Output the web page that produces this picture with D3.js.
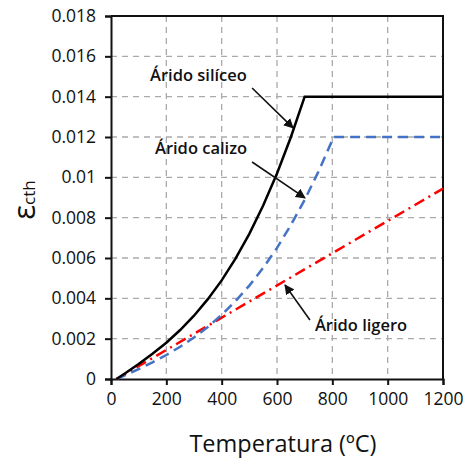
<!DOCTYPE html>
<html>
<head>
<meta charset="utf-8">
<script src="https://cdn.jsdelivr.net/npm/d3@7"></script>
<style>
  body { margin: 0; background: #fff; }
  svg text { font-family: "Open Sans", "Noto Sans", sans-serif; fill: #111; }
</style>
</head>
<body>
<div id="chart"></div>
<script>
// temperatures (ºC) and thermal strain
var tempSiliceo = [20, 50, 100, 150, 200, 250, 300, 350, 400, 450, 500, 550, 600, 650, 700, 1200];
var epsSiliceo = [0, 0.00027, 0.00074, 0.00125, 0.0018, 0.00243, 0.00314, 0.00396, 0.00489, 0.00597, 0.0072, 0.0086, 0.01019, 0.01199, 0.014, 0.014];

var tempCalizo = [20, 50, 100, 150, 200, 250, 300, 350, 400, 450, 500, 550, 600, 650, 700, 750, 805, 1200];
var epsCalizo = [0, 0.00018, 0.00049, 0.00083, 0.00119, 0.0016, 0.00206, 0.00258, 0.00318, 0.00386, 0.00463, 0.00551, 0.0065, 0.00763, 0.00888, 0.01029, 0.012, 0.012];

var tempLigero = [20, 1200];
var epsLigero = [0, 0.00944];

var xTicks = [0, 200, 400, 600, 800, 1000, 1200];
var yTicks = [0, 0.002, 0.004, 0.006, 0.008, 0.01, 0.012, 0.014, 0.016, 0.018];

// labels: text position and arrow (tail -> head), in data units
var notes = [
    { text: "Árido silíceo", tx: 141, ty: 0.0148, x1: 510, y1: 0.01443, x2: 658, y2: 0.01245 },
    { text: "Árido calizo", tx: 159, ty: 0.01116, x1: 510, y1: 0.01076, x2: 701, y2: 0.00898 },
    { text: "Árido ligero", tx: 737, ty: 0.00238, x1: 719, y1: 0.00293, x2: 629, y2: 0.00466 }
];

var width = 464, height = 461;
var margin = { top: 16, right: 21, bottom: 82, left: 111 };
var w = width - margin.left - margin.right;
var h = height - margin.top - margin.bottom;

var svg = d3.select('#chart').append('svg')
    .attr('width', width).attr('height', height);

var defs = svg.append('defs');
defs.append('marker').attr('id', 'arrow')
    .attr('viewBox', '0 0 10 10').attr('refX', 9).attr('refY', 5)
    .attr('markerWidth', 10).attr('markerHeight', 10)
    .attr('markerUnits', 'userSpaceOnUse')
    .attr('orient', 'auto')
    .append('path').attr('d', 'M0,0 L10,5 L0,10 z').attr('fill', '#111');

var g = svg.append('g').attr('transform', 'translate(' + margin.left + ',' + margin.top + ')');

var x = d3.scaleLinear().domain([0, 1200]).range([0, w]);
var y = d3.scaleLinear().domain([0, 0.018]).range([h, 0]);

//grid
g.append('g').selectAll('line').data(yTicks.slice(1, -1)).enter().append('line')
    .attr('x1', 0).attr('x2', w)
    .attr('y1', function (d) { return y(d); }).attr('y2', function (d) { return y(d); })
    .attr('stroke', '#aaaaaa').attr('stroke-width', 1.3).attr('stroke-dasharray', '6,5');
g.append('g').selectAll('line').data(xTicks.slice(1, -1)).enter().append('line')
    .attr('y1', 0).attr('y2', h)
    .attr('x1', function (d) { return x(d); }).attr('x2', function (d) { return x(d); })
    .attr('stroke', '#aaaaaa').attr('stroke-width', 1.3).attr('stroke-dasharray', '6,5');

//axes
var xAxis = g.append('g').attr('transform', 'translate(0,' + h + ')')
    .call(d3.axisBottom(x).tickValues(xTicks).tickSize(6).tickPadding(8).tickFormat(d3.format('d')));
var yAxis = g.append('g')
    .call(d3.axisLeft(y).tickValues(yTicks).tickSize(6).tickPadding(9).tickFormat(d3.format('~g')));
[xAxis, yAxis].forEach(function (a) {
    a.select('.domain').attr('stroke', '#111').attr('stroke-width', 2);
    a.selectAll('.tick line').attr('stroke', '#111').attr('stroke-width', 2);
    a.selectAll('text').style('font-size', '17.5px').attr('fill', '#111');
});

//top and right border
g.append('path').attr('d', 'M0,0H' + w + 'V' + h)
    .attr('fill', 'none').attr('stroke', '#111').attr('stroke-width', 2);

//series
function drawSeries(temps, eps, color, dash) {
    var pts = temps.map(function (t, i) { return [t, eps[i]]; });
    var line = d3.line().x(function (d) { return x(d[0]); }).y(function (d) { return y(d[1]); });
    g.append('path').datum(pts).attr('d', line)
        .attr('fill', 'none').attr('stroke', color).attr('stroke-width', 2.5)
        .attr('stroke-dasharray', dash);
}
drawSeries(tempLigero, epsLigero, '#ff0000', '11,5,2,5');
drawSeries(tempCalizo, epsCalizo, '#4472c4', '10,6');
drawSeries(tempSiliceo, epsSiliceo, '#000000', null);

//annotations
notes.forEach(function (n) {
    g.append('line')
        .attr('x1', x(n.x1)).attr('y1', y(n.y1)).attr('x2', x(n.x2)).attr('y2', y(n.y2))
        .attr('stroke', '#111').attr('stroke-width', 1.6).attr('marker-end', 'url(#arrow)');
    g.append('text').attr('x', x(n.tx)).attr('y', y(n.ty))
        .style('font-size', '16.5px').style('font-weight', 600).text(n.text);
});

//axis titles
svg.append('text').attr('x', margin.left + w / 2 + 6).attr('y', 452)
    .attr('text-anchor', 'middle').style('font-size', '23.5px')
    .text('Temperatura (ºC)');

var yl = svg.append('text').attr('transform', 'translate(35,200) rotate(-90)')
    .attr('text-anchor', 'middle');
yl.append('tspan').style('font-size', '31px').text('ε');
yl.append('tspan').style('font-size', '17px').text('cth');
</script>
</body>
</html>
